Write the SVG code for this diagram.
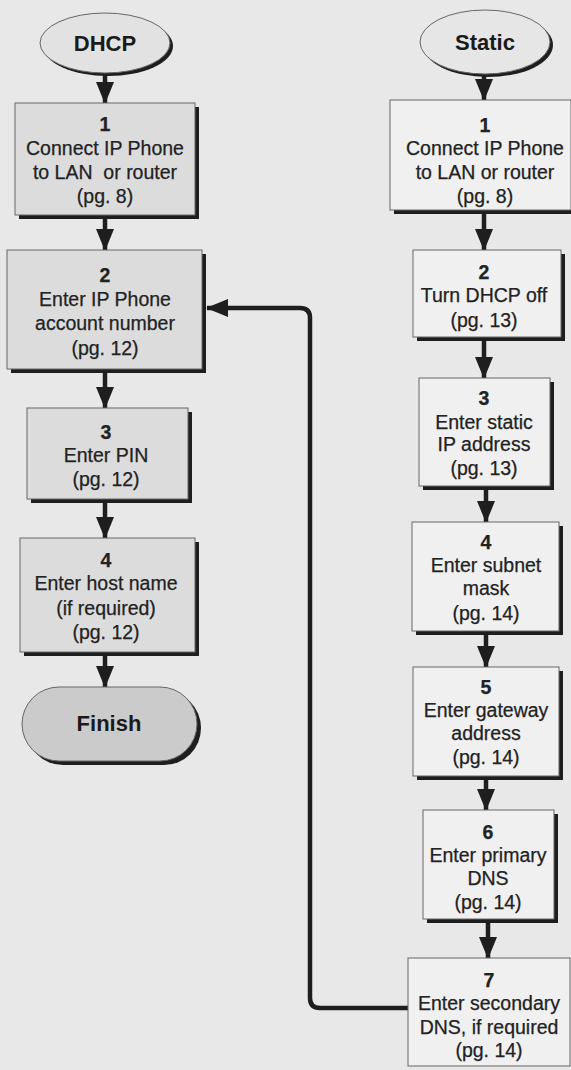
<svg xmlns="http://www.w3.org/2000/svg" width="571" height="1070" viewBox="0 0 571 1070">
  <style>
    .t { font-family: "Liberation Sans", Arial, sans-serif; font-size: 19.5px; fill: #222; stroke: #222; stroke-width: 0.25; text-anchor: middle; }
    .n { font-weight: bold; }
    .h { font-family: "Liberation Sans", Arial, sans-serif; font-size: 22px; font-weight: bold; fill: #1a1a1a; text-anchor: middle; }
    .sh { fill: #1e1e1e; }
    .bx { stroke: #666; stroke-width: 1; }
    .dh { fill: #dcdcdc; }
    .st { fill: #f0f0f0; }
    .cn { fill: none; stroke: #1e1e1e; stroke-width: 4.5; }
  </style>
  <defs>
    <marker id="ah" viewBox="0 0 22 18" refX="21" refY="9" markerWidth="22" markerHeight="18" markerUnits="userSpaceOnUse" orient="auto">
      <path d="M0,0 L22,9 L0,18 z" fill="#1e1e1e"/>
    </marker>
  </defs>

  <rect width="571" height="1070" fill="#e8e8e8"/>

  <!-- connectors -->
  <g id="connectors">
    <line class="cn" x1="105" y1="75" x2="105" y2="103" marker-end="url(#ah)"/>
    <line class="cn" x1="105" y1="218" x2="105" y2="250" marker-end="url(#ah)"/>
    <line class="cn" x1="105" y1="372" x2="105" y2="408" marker-end="url(#ah)"/>
    <line class="cn" x1="105" y1="502" x2="105" y2="538" marker-end="url(#ah)"/>
    <line class="cn" x1="105" y1="656" x2="105" y2="687" marker-end="url(#ah)"/>

    <line class="cn" x1="484" y1="76" x2="484" y2="100" marker-end="url(#ah)"/>
    <line class="cn" x1="484" y1="213" x2="484" y2="250" marker-end="url(#ah)"/>
    <line class="cn" x1="484" y1="341" x2="484" y2="378" marker-end="url(#ah)"/>
    <line class="cn" x1="486" y1="490" x2="486" y2="522" marker-end="url(#ah)"/>
    <line class="cn" x1="486" y1="635" x2="486" y2="667" marker-end="url(#ah)"/>
    <line class="cn" x1="486" y1="780" x2="486" y2="810" marker-end="url(#ah)"/>
    <line class="cn" x1="488" y1="923" x2="488" y2="958" marker-end="url(#ah)"/>

    <!-- loop back from step 7 (Static) to step 2 (DHCP) -->
    <path class="cn" d="M408,1008 L320,1008 Q310,1008 310,998 L310,318 Q310,308 300,308 L207,308" marker-end="url(#ah)"/>
  </g>

  <!-- DHCP column -->
  <g id="dhcp-start">
    <ellipse cx="108" cy="46" rx="65" ry="30" class="sh"/>
    <ellipse cx="105" cy="43" rx="65" ry="30" fill="#e2e2e2" class="bx"/>
    <text class="h" x="105" y="51">DHCP</text>
  </g>

  <g id="dhcp-1">
    <rect x="19" y="107" width="180" height="112" class="sh"/>
    <rect x="15" y="103" width="180" height="112" class="bx dh"/>
    <text class="t n" x="105" y="131">1</text>
    <text class="t" x="105" y="155">Connect IP Phone</text>
    <text class="t" x="105" y="179" xml:space="preserve">to LAN  or router</text>
    <text class="t" x="105" y="203">(pg. 8)</text>
  </g>

  <g id="dhcp-2">
    <rect x="11" y="254" width="195" height="119" class="sh"/>
    <rect x="7" y="250" width="195" height="119" class="bx dh"/>
    <text class="t n" x="105" y="282">2</text>
    <text class="t" x="105" y="306">Enter IP Phone</text>
    <text class="t" x="105" y="330">account number</text>
    <text class="t" x="105" y="355">(pg. 12)</text>
  </g>

  <g id="dhcp-3">
    <rect x="31" y="412" width="161" height="91" class="sh"/>
    <rect x="27" y="408" width="161" height="91" class="bx dh"/>
    <text class="t n" x="106" y="439">3</text>
    <text class="t" x="106" y="462">Enter PIN</text>
    <text class="t" x="106" y="486">(pg. 12)</text>
  </g>

  <g id="dhcp-4">
    <rect x="24" y="542" width="175" height="114" class="sh"/>
    <rect x="20" y="538" width="175" height="114" class="bx dh"/>
    <text class="t n" x="106" y="567">4</text>
    <text class="t" x="106" y="590">Enter host name</text>
    <text class="t" x="106" y="615">(if required)</text>
    <text class="t" x="106" y="639">(pg. 12)</text>
  </g>

  <g id="finish">
    <rect x="26" y="691" width="175" height="74" rx="37" class="sh"/>
    <rect x="22" y="687" width="175" height="74" rx="37" fill="#cbcbcb" class="bx"/>
    <text class="h" x="109" y="731">Finish</text>
  </g>

  <!-- Static column -->
  <g id="static-start">
    <ellipse cx="488" cy="45" rx="65" ry="32" class="sh"/>
    <ellipse cx="485" cy="42" rx="65" ry="32" fill="#e6e6e6" class="bx"/>
    <text class="h" x="485" y="50">Static</text>
  </g>

  <g id="static-1">
    <rect x="394" y="104" width="181" height="110" class="sh"/>
    <rect x="390" y="100" width="181" height="110" class="bx st"/>
    <text class="t n" x="485" y="132">1</text>
    <text class="t" x="485" y="155">Connect IP Phone</text>
    <text class="t" x="485" y="179">to LAN or router</text>
    <text class="t" x="485" y="203">(pg. 8)</text>
  </g>

  <g id="static-2">
    <rect x="417" y="254" width="148" height="87" class="sh"/>
    <rect x="413" y="250" width="148" height="87" class="bx st"/>
    <text class="t n" x="484" y="279">2</text>
    <text class="t" x="484" y="302">Turn DHCP off</text>
    <text class="t" x="484" y="327">(pg. 13)</text>
  </g>

  <g id="static-3">
    <rect x="423" y="382" width="131" height="108" class="sh"/>
    <rect x="419" y="378" width="131" height="108" class="bx st"/>
    <text class="t n" x="484" y="405">3</text>
    <text class="t" x="484" y="429">Enter static</text>
    <text class="t" x="484" y="451">IP address</text>
    <text class="t" x="484" y="475">(pg. 13)</text>
  </g>

  <g id="static-4">
    <rect x="416" y="526" width="147" height="109" class="sh"/>
    <rect x="412" y="522" width="147" height="109" class="bx st"/>
    <text class="t n" x="486" y="549">4</text>
    <text class="t" x="486" y="572">Enter subnet</text>
    <text class="t" x="486" y="595">mask</text>
    <text class="t" x="486" y="620">(pg. 14)</text>
  </g>

  <g id="static-5">
    <rect x="417" y="671" width="146" height="109" class="sh"/>
    <rect x="413" y="667" width="146" height="109" class="bx st"/>
    <text class="t n" x="486" y="694">5</text>
    <text class="t" x="486" y="717">Enter gateway</text>
    <text class="t" x="486" y="740">address</text>
    <text class="t" x="486" y="764">(pg. 14)</text>
  </g>

  <g id="static-6">
    <rect x="427" y="814" width="131" height="109" class="sh"/>
    <rect x="423" y="810" width="131" height="109" class="bx st"/>
    <text class="t n" x="488" y="839">6</text>
    <text class="t" x="488" y="862">Enter primary</text>
    <text class="t" x="488" y="885">DNS</text>
    <text class="t" x="488" y="909">(pg. 14)</text>
  </g>

  <g id="static-7">
    <rect x="408" y="958" width="162" height="108" class="bx st"/>
    <text class="t n" x="489" y="987">7</text>
    <text class="t" x="489" y="1010">Enter secondary</text>
    <text class="t" x="489" y="1034">DNS, if required</text>
    <text class="t" x="489" y="1057">(pg. 14)</text>
  </g>
</svg>
